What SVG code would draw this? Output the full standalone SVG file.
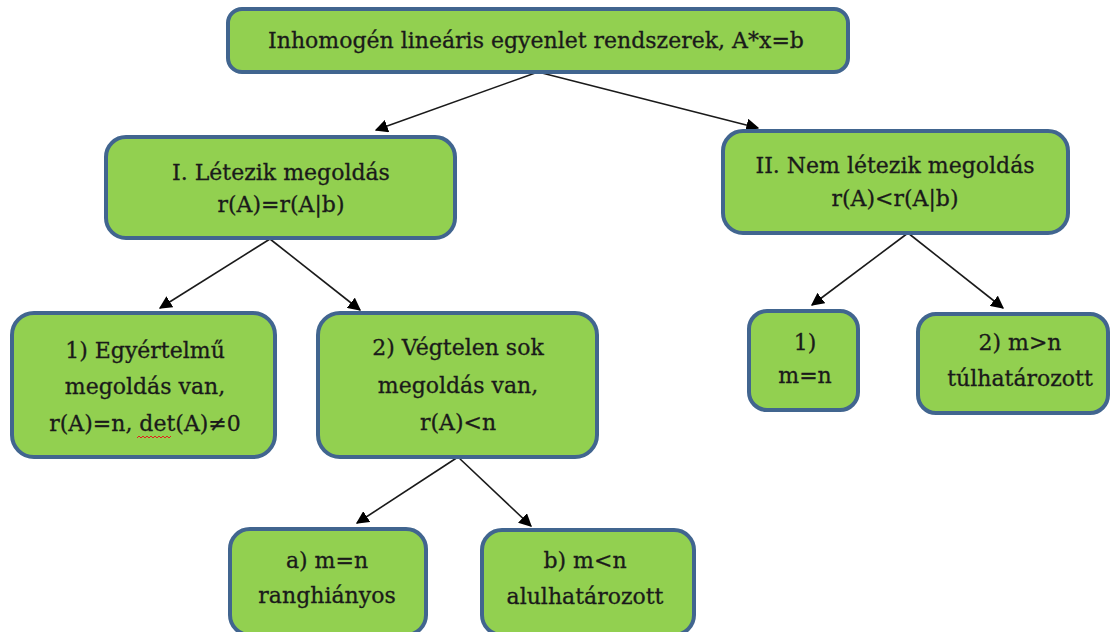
<svg xmlns="http://www.w3.org/2000/svg" width="1120" height="632" viewBox="0 0 1120 632">
<style>
.box{fill:#92D050;stroke:#41658F;stroke-width:4}
.t{font-family:"DejaVu Serif","Liberation Serif",serif;font-size:22px;fill:#1a1a1a;stroke:#1a1a1a;stroke-width:0.3;text-anchor:middle}
.c{stroke:#1a1a1a;stroke-width:1.6;fill:none;marker-end:url(#ah)}
</style>
<defs>
<marker id="ah" viewBox="0 0 10 10" refX="9" refY="5" markerWidth="13" markerHeight="13" markerUnits="userSpaceOnUse" orient="auto">
<path d="M0,0 L10,5 L0,10 z" fill="#000"/>
</marker>
</defs>
<rect width="1120" height="632" fill="#fff"/>
<g id="connectors">
<line class="c" x1="538" y1="72" x2="376" y2="130"/>
<line class="c" x1="538" y1="72" x2="758" y2="128"/>
<line class="c" x1="270" y1="239" x2="160" y2="308"/>
<line class="c" x1="270" y1="239" x2="360" y2="310"/>
<line class="c" x1="458" y1="457" x2="357" y2="523"/>
<line class="c" x1="458" y1="457" x2="531" y2="526"/>
<line class="c" x1="908" y1="233" x2="812" y2="305"/>
<line class="c" x1="908" y1="233" x2="1003" y2="308"/>
</g>
<g id="root">
<rect class="box" x="228" y="9" width="620" height="63" rx="14"/>
<text class="t" x="536" y="48">Inhomogén lineáris egyenlet rendszerek, A*x=b</text>
</g>
<g id="n1">
<rect class="box" x="106" y="137" width="349" height="101" rx="20"/>
<text class="t" x="281" y="180">I. Létezik megoldás</text>
<text class="t" x="281" y="212">r(A)=r(A|b)</text>
</g>
<g id="n2">
<rect class="box" x="723" y="131" width="345" height="102" rx="20"/>
<text class="t" x="895" y="173">II. Nem létezik megoldás</text>
<text class="t" x="895" y="206">r(A)&lt;r(A|b)</text>
</g>
<g id="n11">
<rect class="box" x="12" y="313" width="263" height="144" rx="22"/>
<text class="t" x="145" y="358">1) Egyértelmű</text>
<text class="t" x="145" y="394">megoldás van,</text>
<text class="t" x="145" y="431">r(A)=n, det(A)≠0</text>
<path d="M137,438 l2,-2 l2,2 l2,-2 l2,2 l2,-2 l2,2 l2,-2 l2,2 l2,-2 l2,2 l2,-2 l2,2 l2,-2 l2,2 l2,-2 l2,2 l2,-2" stroke="#e02020" stroke-width="1" fill="none"/>
</g>
<g id="n12">
<rect class="box" x="318" y="313" width="279" height="144" rx="22"/>
<text class="t" x="458" y="355">2) Végtelen sok</text>
<text class="t" x="458" y="393">megoldás van,</text>
<text class="t" x="458" y="430">r(A)&lt;n</text>
</g>
<g id="n21">
<rect class="box" x="749" y="311" width="109" height="99" rx="18"/>
<text class="t" x="805" y="350">1)</text>
<text class="t" x="805" y="383">m=n</text>
</g>
<g id="n22">
<rect class="box" x="918" y="314" width="190" height="99" rx="18"/>
<text class="t" x="1020" y="350">2) m&gt;n</text>
<text class="t" x="1020" y="386">túlhatározott</text>
</g>
<g id="n121">
<rect class="box" x="230" y="529" width="196" height="106" rx="20"/>
<text class="t" x="327" y="568">a) m=n</text>
<text class="t" x="327" y="603">ranghiányos</text>
</g>
<g id="n122">
<rect class="box" x="482" y="530" width="212" height="105" rx="20"/>
<text class="t" x="585" y="568">b) m&lt;n</text>
<text class="t" x="585" y="604">alulhatározott</text>
</g>
</svg>
